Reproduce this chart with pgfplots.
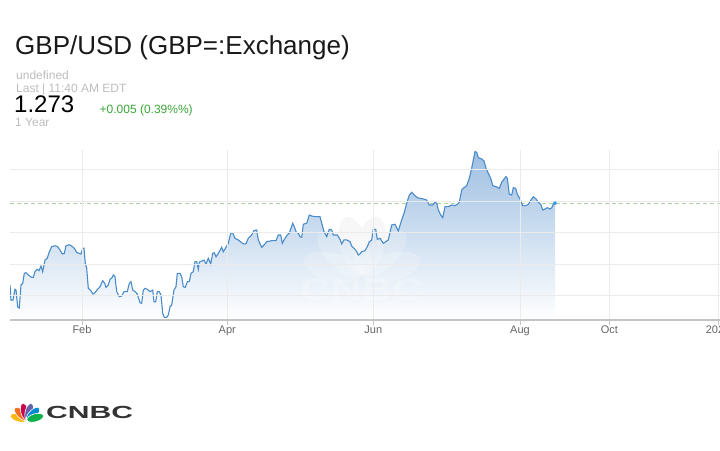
\documentclass[border=0pt]{standalone}
\usepackage{pgfplots}
\pgfplotsset{compat=1.18}
\usepackage{pgfplotstable}
\usepackage{fontspec}
\setmainfont{Liberation Sans}
\definecolor{linecol}{HTML}{4A8BC9}
\definecolor{fillcol}{HTML}{9EBFE2}
\definecolor{gridcol}{HTML}{EBEBEB}
\definecolor{axiscol}{HTML}{C4C4C4}
\definecolor{tickcol}{HTML}{666666}
\definecolor{dashcol}{HTML}{A8D5A0}
\definecolor{greytext}{HTML}{BDBDBD}
\definecolor{greentext}{HTML}{3AA637}
\definecolor{dotcol}{HTML}{3C9FE0}
\definecolor{logotext}{HTML}{333333}
\definecolor{pyellow}{HTML}{FCB711}
\definecolor{porange}{HTML}{F37021}
\definecolor{pred}{HTML}{CC004C}
\definecolor{ppurple}{HTML}{6460AA}
\definecolor{pblue}{HTML}{0089D0}
\definecolor{pgreen}{HTML}{0DB14B}

% x = horizontal position (chart pixels), y = GBP/USD rate
\pgfplotstableread{
x y
10 1.1809
10 1.2086
11 1.1967
13 1.1967
15 1.2052
16 1.2046
17.7 1.1912
19.3 1.1904
21 1.2086
22.7 1.2099
24.3 1.2178
26 1.2183
28.3 1.2165
31.7 1.2146
33.3 1.2146
35 1.2191
37 1.2210
39 1.2199
41 1.2236
42.7 1.2191
45 1.2283
47.3 1.2297
49 1.2341
51.7 1.2389
55 1.2396
57.7 1.2389
60 1.2362
62.3 1.2331
64.3 1.2336
66 1.2396
69 1.2404
71.7 1.2394
74.3 1.2376
76.7 1.2344
79 1.2336
81 1.2331
82.7 1.2376
84 1.2376
85.3 1.2257
86.7 1.2218
88.3 1.2059
91 1.2040
93 1.2014
95 1.2025
97 1.2046
100 1.2072
102.7 1.2120
104.7 1.2099
106 1.2067
108.3 1.2086
110 1.2131
111.7 1.2139
113.3 1.2165
115 1.2151
116.7 1.2033
119.3 1.1993
121.7 1.1999
124 1.2033
127.3 1.2033
129.3 1.2099
131 1.2112
132.7 1.2046
135 1.2033
137.3 1.2014
140 1.1946
141.7 1.1941
143.3 1.2046
145 1.2059
147.3 1.2052
150 1.2033
152.7 1.2046
154 1.1953
155.7 1.1953
157.3 1.2033
159.3 1.2033
161 1.2006
162.7 1.1862
164.3 1.1830
166.7 1.1830
168.3 1.1848
170 1.1914
171.7 1.1927
174 1.2046
176 1.2072
177.3 1.2178
180 1.2178
181.7 1.2151
183.3 1.2072
185.3 1.2067
187.3 1.2112
189.3 1.2112
191 1.2178
193.3 1.2191
195 1.2270
196.7 1.2270
198.3 1.2210
199.3 1.2267
201.7 1.2275
204 1.2283
206 1.2252
208.3 1.2297
210.7 1.2252
212.7 1.2336
214.3 1.2341
216 1.2309
218.3 1.2336
221.7 1.2384
223.3 1.2349
226 1.2384
228.3 1.2415
230.7 1.2495
232.7 1.2499
235 1.2455
238.3 1.2442
241.7 1.2420
244 1.2410
246 1.2412
248.3 1.2455
251.7 1.2481
254 1.2515
256.7 1.2521
258.3 1.2442
261.7 1.2384
264 1.2402
266.7 1.2428
271.7 1.2436
276 1.2436
278.3 1.2481
280.7 1.2481
282.3 1.2415
285 1.2455
287.3 1.2481
289.3 1.2495
292.7 1.2574
294.3 1.2547
296 1.2507
298.3 1.2495
300 1.2468
301.7 1.2463
303.3 1.2566
306.7 1.2574
309.3 1.2639
311.7 1.2631
315 1.2626
320 1.2626
321.7 1.2574
324 1.2507
326.7 1.2468
329.3 1.2526
331.7 1.2521
333.3 1.2481
337.3 1.2481
340 1.2447
341.7 1.2410
344 1.2442
346.7 1.2442
350 1.2428
351.7 1.2394
354 1.2376
356.7 1.2349
358.3 1.2323
360 1.2331
361.7 1.2349
365 1.2357
367.3 1.2389
369.3 1.2428
371.7 1.2442
373.3 1.2526
375.7 1.2526
377.3 1.2447
380 1.2455
383.3 1.2415
388.3 1.2442
391.7 1.2560
395 1.2566
398.3 1.2513
401.7 1.2600
404 1.2653
406.7 1.2732
409.3 1.2797
411.7 1.2819
415 1.2792
417.3 1.2776
420 1.2771
423.3 1.2766
426.7 1.2758
429.3 1.2718
432.7 1.2718
435 1.2740
436.7 1.2732
438.3 1.2679
440.7 1.2639
442.7 1.2618
445 1.2705
448.3 1.2705
451.7 1.2718
455 1.2713
457.3 1.2724
459.3 1.2740
461.7 1.2837
464 1.2855
466.7 1.2871
469.3 1.2930
471.7 1.3009
473.3 1.3074
475 1.3140
476.7 1.3135
478.3 1.3093
481.7 1.3082
484 1.3066
486 1.3009
488.3 1.2969
490.7 1.2930
492.7 1.2871
496 1.2863
499.3 1.2850
501.7 1.2898
503.3 1.2916
506 1.2942
507.3 1.2930
509.3 1.2803
511.7 1.2797
513.3 1.2855
515.7 1.2850
517.3 1.2803
520 1.2766
522.7 1.2713
526 1.2713
528.3 1.2724
531 1.2758
533.3 1.2784
536 1.2766
538.3 1.2740
540.7 1.2724
542.7 1.2679
545 1.2687
547.3 1.2697
550 1.2687
551.7 1.2697
553.3 1.2724
555 1.2732
555 1.1809
}\fxdata

\newcommand{\wmfeather}[2]{\fill[#2, shift={(axis cs:362,1.2165)}, rotate=#1] (30pt,0pt) ellipse [x radius=30pt, y radius=14pt];}

\begin{document}
\begin{tikzpicture}
\useasboundingbox (0pt,0pt) rectangle (720pt,-450pt);
% faint watermark behind the chart
\begin{scope}[shift={(362pt,-275pt)}]
  \foreach \a in {165,135,105,75,45,15}
    \fill[black!4, rotate=\a] (30pt,0pt) ellipse [x radius=30pt, y radius=14pt];
\end{scope}
\node[anchor=base west, inner sep=0pt, text=black!4] at (300pt,-300pt)
  {\scalebox{1.39}[1]{\fontsize{30.7}{32}\selectfont\bfseries CNBC}};

\begin{axis}[
  at={(10pt,-320pt)}, anchor=south west,
  scale only axis, width=710pt, height=170pt,
  xmin=10, xmax=720, ymin=1.1809, ymax=1.3153,
  axis on top,
  axis x line*=bottom, axis y line*=left,
  y axis line style={draw=none},
  x axis line style={axiscol, line width=1.2pt},
  xtick={82,227.3,373.3,520,609.3,718},
  xticklabels={Feb,Apr,Jun,Aug,Oct,2024},
  ytick={1.2,1.225,1.25,1.275,1.3},
  yticklabels={},
  xmajorgrids, ymajorgrids,
  grid style={gridcol, line width=0.8pt},
  major tick length=5pt, tick align=outside,
  xtick style={axiscol, line width=0.8pt},
  ytick style={draw=none},
  xticklabel style={font=\fontsize{11}{13}\selectfont, text=tickcol, yshift=3pt},
]
\addplot[dashcol, dash pattern=on 4pt off 3pt, line width=0.9pt] coordinates {(10,1.2732) (720,1.2732)};
\addplot[draw=none, top color=fillcol, bottom color=white] table {\fxdata};
\wmfeather{165}{white, opacity=0.2}
\wmfeather{135}{white, opacity=0.2}
\wmfeather{105}{white, opacity=0.2}
\wmfeather{75}{white, opacity=0.2}
\wmfeather{45}{white, opacity=0.2}
\wmfeather{15}{white, opacity=0.2}
\node[anchor=base west, inner sep=0pt, text=white, text opacity=0.25] at (axis cs:300,1.1967)
  {\scalebox{1.39}[1]{\fontsize{30.7}{32}\selectfont\bfseries CNBC}};
\addplot[linecol, line width=1.1pt, restrict y to domain=1.182:1.4] table {\fxdata};
\addplot[only marks, mark=*, mark size=1.8pt, dotcol] coordinates {(555,1.2732)};
\end{axis}

% header
\begin{scope}[x=1pt, y=-1pt]
\node[anchor=base west, inner sep=0pt, text=black!90] at (15,54.5)
  {\fontsize{26}{30}\selectfont GBP/USD (GBP=:Exchange)};
\node[anchor=base west, inner sep=0pt, text=greytext] at (16,79.5)
  {\fontsize{12}{14}\selectfont undefined};
\node[anchor=base west, inner sep=0pt, text=greytext] at (16,92.5)
  {\fontsize{12}{14}\selectfont Last | 11:40 AM EDT};
\node[anchor=base west, inner sep=0pt, text=black] at (14,112.7)
  {\fontsize{24}{28}\selectfont 1.273};
\node[anchor=base west, inner sep=0pt, text=greentext] at (99.5,113)
  {\fontsize{12}{14}\selectfont +0.005 (0.39\%\%)};
\node[anchor=base west, inner sep=0pt, text=greytext] at (15,126)
  {\fontsize{12}{14}\selectfont 1 Year};
\node[anchor=base west, inner sep=0pt, text=logotext] at (46,418.5)
  {\scalebox{1.72}[1]{\fontsize{17.5}{20}\selectfont\bfseries CNBC}};
\end{scope}

% peacock logo
\begin{scope}[shift={(27pt,-420pt)}]
  \fill[pyellow, draw=white, line width=0.6pt, rotate=165] (8.5pt,0pt) ellipse [x radius=8.5pt, y radius=4pt];
  \fill[porange, draw=white, line width=0.6pt, rotate=135] (8.5pt,0pt) ellipse [x radius=8.5pt, y radius=4pt];
  \fill[pred, draw=white, line width=0.6pt, rotate=105] (8.5pt,0pt) ellipse [x radius=8.5pt, y radius=4pt];
  \fill[ppurple, draw=white, line width=0.6pt, rotate=75] (8.5pt,0pt) ellipse [x radius=8.5pt, y radius=4pt];
  \fill[pblue, draw=white, line width=0.6pt, rotate=45] (8.5pt,0pt) ellipse [x radius=8.5pt, y radius=4pt];
  \fill[pgreen, draw=white, line width=0.6pt, rotate=15] (8.5pt,0pt) ellipse [x radius=8.5pt, y radius=4pt];
\end{scope}
\end{tikzpicture}
\end{document}
